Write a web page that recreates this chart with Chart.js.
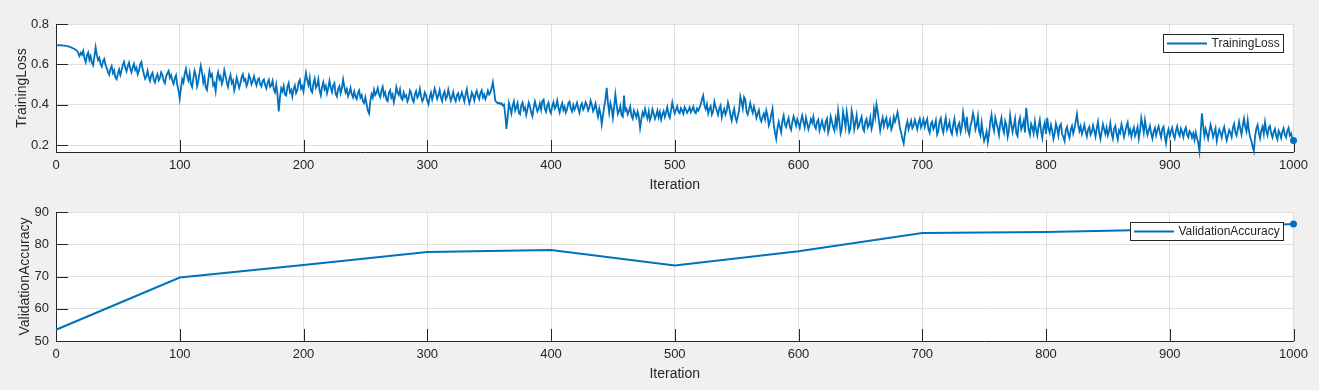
<!DOCTYPE html>
<html><head><meta charset="utf-8">
<script src="https://cdn.jsdelivr.net/npm/chart.js@4"></script>
<style>
html,body{margin:0;padding:0;background:#f0f0f0;width:1319px;height:390px;overflow:hidden}
canvas{position:absolute;left:0}
#c1{top:0}
#c2{top:195px}
</style></head><body>
<canvas id="c1" width="1319" height="195"></canvas>
<canvas id="c2" width="1319" height="195"></canvas>
<script>
// Training loss, one value per iteration (1..1000)
const trainingLoss = [
0.695,0.695,0.695,0.694,0.694,0.693,0.693,0.692,0.691,0.689,
0.687,0.685,0.682,0.679,0.676,0.672,0.667,0.655,0.641,0.658,
0.648,0.667,0.631,0.612,0.644,0.659,0.622,0.641,0.608,0.596,
0.639,0.685,0.646,0.621,0.633,0.602,0.589,0.615,0.627,0.598,
0.583,0.561,0.549,0.578,0.592,0.557,0.571,0.536,0.527,0.554,
0.575,0.548,0.571,0.598,0.613,0.583,0.566,0.592,0.609,0.579,
0.561,0.587,0.603,0.572,0.584,0.551,0.568,0.601,0.612,0.577,
0.553,0.529,0.541,0.568,0.536,0.518,0.547,0.559,0.524,0.511,
0.537,0.552,0.521,0.533,0.561,0.548,0.519,0.507,0.541,0.556,
0.568,0.534,0.547,0.519,0.503,0.531,0.546,0.498,0.472,0.431,
0.484,0.527,0.511,0.553,0.578,0.542,0.521,0.556,0.503,0.488,
0.531,0.569,0.546,0.492,0.518,0.559,0.594,0.562,0.511,0.537,
0.486,0.473,0.523,0.568,0.541,0.552,0.496,0.507,0.468,0.532,
0.561,0.527,0.541,0.503,0.524,0.572,0.546,0.511,0.489,0.527,
0.548,0.508,0.521,0.471,0.497,0.535,0.512,0.484,0.506,0.536,
0.551,0.519,0.527,0.494,0.512,0.548,0.531,0.502,0.518,0.541,
0.514,0.496,0.523,0.531,0.502,0.491,0.518,0.526,0.497,0.481,
0.509,0.524,0.489,0.497,0.519,0.476,0.461,0.499,0.452,0.368,
0.438,0.482,0.467,0.494,0.451,0.446,0.489,0.508,0.462,0.474,
0.441,0.479,0.496,0.458,0.472,0.511,0.524,0.481,0.493,0.466,
0.517,0.558,0.521,0.498,0.534,0.473,0.462,0.506,0.529,0.484,
0.496,0.526,0.471,0.447,0.489,0.512,0.478,0.494,0.457,0.483,
0.519,0.487,0.463,0.496,0.508,0.454,0.441,0.479,0.492,0.457,
0.482,0.526,0.489,0.461,0.478,0.443,0.459,0.484,0.452,0.437,
0.466,0.441,0.429,0.458,0.471,0.436,0.448,0.418,0.409,0.437,
0.404,0.372,0.357,0.418,0.453,0.436,0.474,0.449,0.461,0.483,
0.452,0.438,0.471,0.489,0.447,0.462,0.426,0.418,0.459,0.472,
0.436,0.451,0.413,0.442,0.487,0.461,0.449,0.476,0.433,0.425,
0.461,0.439,0.447,0.416,0.432,0.471,0.458,0.427,0.414,0.451,
0.468,0.436,0.447,0.479,0.443,0.418,0.431,0.462,0.449,0.421,
0.403,0.438,0.461,0.427,0.452,0.481,0.456,0.429,0.447,0.473,
0.438,0.419,0.452,0.466,0.428,0.441,0.476,0.449,0.421,0.439,
0.463,0.432,0.418,0.448,0.457,0.426,0.441,0.462,0.438,0.417,
0.452,0.478,0.436,0.408,0.429,0.461,0.447,0.421,0.452,0.469,
0.443,0.428,0.459,0.472,0.437,0.451,0.429,0.446,0.471,0.452,
0.461,0.483,0.512,0.469,0.421,0.413,0.407,0.411,0.404,0.408,
0.397,0.402,0.351,0.281,0.343,0.409,0.384,0.358,0.396,0.417,
0.372,0.388,0.409,0.361,0.354,0.397,0.412,0.376,0.387,0.351,
0.379,0.411,0.393,0.362,0.343,0.386,0.417,0.392,0.368,0.381,
0.407,0.376,0.419,0.426,0.381,0.366,0.398,0.411,0.372,0.359,
0.396,0.413,0.381,0.392,0.421,0.386,0.362,0.389,0.408,0.374,
0.391,0.362,0.378,0.409,0.416,0.381,0.367,0.398,0.376,0.392,
0.411,0.382,0.361,0.394,0.407,0.376,0.389,0.413,0.398,0.372,
0.386,0.421,0.401,0.369,0.384,0.407,0.371,0.341,0.382,0.357,
0.303,0.348,0.391,0.426,0.484,0.411,0.362,0.409,0.384,0.336,
0.388,0.452,0.402,0.356,0.371,0.394,0.349,0.341,0.446,0.372,
0.381,0.353,0.368,0.391,0.347,0.332,0.372,0.356,0.338,0.367,
0.341,0.286,0.328,0.362,0.346,0.379,0.351,0.332,0.368,0.325,
0.344,0.378,0.356,0.331,0.349,0.372,0.338,0.364,0.327,0.352,
0.369,0.341,0.363,0.388,0.351,0.336,0.374,0.412,0.381,0.358,
0.376,0.393,0.367,0.359,0.384,0.371,0.356,0.389,0.377,0.361,
0.373,0.388,0.364,0.376,0.391,0.366,0.359,0.382,0.371,0.386,
0.402,0.428,0.446,0.397,0.379,0.404,0.358,0.381,0.394,0.352,
0.367,0.416,0.389,0.371,0.351,0.382,0.397,0.338,0.364,0.381,
0.352,0.371,0.412,0.386,0.348,0.322,0.356,0.381,0.339,0.319,
0.346,0.372,0.441,0.416,0.382,0.438,0.426,0.367,0.352,0.379,
0.409,0.381,0.361,0.392,0.368,0.336,0.357,0.374,0.332,0.318,
0.341,0.357,0.329,0.372,0.346,0.298,0.317,0.352,0.381,0.301,
0.262,0.232,0.284,0.316,0.289,0.264,0.322,0.347,0.304,0.291,
0.318,0.336,0.292,0.276,0.314,0.343,0.322,0.297,0.328,0.309,
0.286,0.321,0.348,0.316,0.289,0.337,0.308,0.279,0.301,0.329,
0.312,0.341,0.296,0.283,0.316,0.327,0.274,0.298,0.321,0.292,
0.276,0.318,0.332,0.264,0.289,0.343,0.317,0.289,0.272,0.331,
0.296,0.371,0.321,0.259,0.283,0.366,0.332,0.291,0.365,0.318,
0.266,0.284,0.371,0.341,0.279,0.312,0.348,0.286,0.297,0.324,
0.342,0.286,0.271,0.318,0.331,0.289,0.302,0.336,0.281,0.306,
0.379,0.341,0.402,0.366,0.319,0.273,0.312,0.337,0.294,0.321,
0.336,0.289,0.302,0.327,0.278,0.296,0.341,0.317,0.338,0.364,
0.326,0.284,0.262,0.231,0.209,0.258,0.294,0.318,0.279,0.301,
0.322,0.284,0.297,0.326,0.304,0.279,0.312,0.331,0.289,0.306,
0.328,0.291,0.314,0.331,0.279,0.262,0.306,0.317,0.281,0.296,
0.323,0.254,0.271,0.318,0.334,0.286,0.263,0.306,0.337,0.277,
0.293,0.316,0.271,0.256,0.302,0.331,0.284,0.259,0.298,0.311,
0.266,0.291,0.361,0.318,0.283,0.341,0.271,0.252,0.297,0.321,
0.359,0.331,0.278,0.301,0.343,0.268,0.249,0.311,0.262,0.221,
0.241,0.268,0.215,0.256,0.318,0.352,0.296,0.271,0.337,0.309,
0.286,0.251,0.307,0.336,0.284,0.262,0.319,0.298,0.241,0.271,
0.348,0.303,0.266,0.297,0.331,0.258,0.245,0.313,0.336,0.279,
0.297,0.321,0.264,0.385,0.331,0.276,0.253,0.306,0.288,0.259,
0.318,0.276,0.248,0.293,0.325,0.271,0.236,0.289,0.312,0.256,
0.336,0.284,0.263,0.301,0.274,0.232,0.258,0.307,0.283,0.249,
0.294,0.305,0.256,0.241,0.221,0.276,0.291,0.254,0.237,0.278,
0.296,0.258,0.283,0.318,0.355,0.302,0.271,0.294,0.256,0.276,
0.301,0.268,0.244,0.279,0.291,0.252,0.266,0.298,0.271,0.243,
0.284,0.316,0.262,0.231,0.268,0.304,0.279,0.256,0.287,0.249,
0.271,0.309,0.258,0.233,0.282,0.296,0.256,0.229,0.274,0.261,
0.304,0.279,0.241,0.266,0.294,0.313,0.259,0.278,0.243,0.271,
0.289,0.247,0.266,0.291,0.234,0.272,0.335,0.301,0.262,0.324,
0.283,0.251,0.274,0.296,0.258,0.233,0.268,0.286,0.249,0.276,
0.294,0.263,0.238,0.281,0.292,0.246,0.211,0.257,0.279,0.245,
0.268,0.287,0.251,0.234,0.272,0.294,0.261,0.247,0.283,0.266,
0.241,0.273,0.288,0.252,0.239,0.271,0.262,0.238,0.259,0.227,
0.264,0.236,0.213,0.171,0.262,0.358,0.297,0.246,0.281,0.257,
0.231,0.268,0.302,0.276,0.241,0.261,0.284,0.222,0.253,0.279,
0.262,0.238,0.271,0.291,0.257,0.224,0.248,0.276,0.263,0.241,
0.286,0.306,0.264,0.248,0.279,0.316,0.282,0.253,0.297,0.332,
0.291,0.268,0.324,0.272,0.238,0.221,0.193,0.171,0.246,0.283,
0.301,0.262,0.234,0.274,0.293,0.256,0.314,0.271,0.249,0.288,
0.296,0.257,0.238,0.266,0.281,0.247,0.229,0.272,0.258,0.236,
0.268,0.284,0.252,0.239,0.271,0.286,0.248,0.259,0.236,0.224
];
const validationIterations = [0,100,200,300,400,500,600,700,800,900,1000];
const validationAccuracy = [53.5,69.7,73.6,77.6,78.2,73.4,77.8,83.5,83.8,84.6,86.3];
const iterationTicks = [0,100,200,300,400,500,600,700,800,900,1000];
const lossTicks = [0.2,0.4,0.6,0.8];
const accuracyTicks = [50,60,70,80,90];

const FONT = '"Liberation Sans", Arial, Helvetica, sans-serif';
const AX = '#262626';
const GRID = '#dfdfdf';
const BLUE = '#0072bd';

const areaBg = {id:'areaBg', beforeDraw(c){const a=c.chartArea,x=c.ctx;x.save();x.fillStyle='#fff';x.fillRect(a.left,a.top,a.right-a.left,a.bottom-a.top);x.restore();}};
const inTicks = {id:'inTicks', beforeDatasetsDraw(c){
  const a=c.chartArea,ctx=c.ctx,xs=c.scales.x,ys=c.scales.y;
  ctx.save();ctx.strokeStyle=AX;ctx.lineWidth=1;ctx.beginPath();
  xs.ticks.forEach(t=>{const p=Math.round(xs.getPixelForValue(t.value))+0.5;ctx.moveTo(p,a.bottom);ctx.lineTo(p,a.bottom-12);});
  ys.ticks.forEach(t=>{const p=Math.round(ys.getPixelForValue(t.value))+0.5;ctx.moveTo(a.left,p);ctx.lineTo(a.left+12,p);});
  ctx.stroke();ctx.restore();}};
const boxLegend = {id:'boxLegend', afterDraw(c){
  const a=c.chartArea,ctx=c.ctx,ds=c.data.datasets[0];
  ctx.save();ctx.font='12px '+FONT;
  const tw=ctx.measureText(ds.label).width;
  const h=19,w=4+40+4.5+tw+4.5;
  const r=Math.round(a.right-10),l=Math.round(r-w),t=Math.round(a.top+10);
  ctx.fillStyle='#fff';ctx.fillRect(l,t,r-l,h);
  ctx.strokeStyle=AX;ctx.lineWidth=1;ctx.strokeRect(l+0.5,t+0.5,r-l-1,h-1);
  const cy=t+h/2;
  ctx.strokeStyle=BLUE;ctx.lineWidth=2;ctx.beginPath();ctx.moveTo(l+4,cy);ctx.lineTo(l+44,cy);ctx.stroke();
  ctx.fillStyle=AX;ctx.textBaseline='middle';ctx.textAlign='left';ctx.fillText(ds.label,l+48.5,cy+0.5);
  ctx.restore();}};

function makeOptions(cfg){
  return {
    responsive:false, animation:false,
    layout:{padding:{top:cfg.top,right:25.5,left:0,bottom:0}},
    plugins:{legend:{display:false},tooltip:{enabled:false}},
    scales:{
      x:{type:'linear',min:0,max:1000,
        afterBuildTicks(s){s.ticks=iterationTicks.map(v=>({value:v}));},
        afterFit(s){s.height=cfg.xh;},
        grid:{color:GRID,drawTicks:false},
        border:{color:AX,width:1},
        ticks:{color:AX,font:{family:FONT,size:13},padding:6,maxRotation:0,autoSkip:false,callback:v=>String(v)},
        title:{display:true,text:'Iteration',color:AX,font:{family:FONT,size:14},padding:{top:0,bottom:cfg.xtpb}}},
      y:{type:'linear',min:cfg.ymin,max:cfg.ymax,
        afterBuildTicks(s){s.ticks=cfg.yticks.map(v=>({value:v}));},
        afterFit(s){s.width=56;},
        grid:{color:GRID,drawTicks:false},
        border:{color:AX,width:1},
        ticks:{color:AX,font:{family:FONT,size:13},padding:7,callback:v=>String(v)},
        title:{display:true,text:cfg.ylabel,color:AX,font:{family:FONT,size:14},padding:{top:cfg.ytpt,bottom:0}}}
    }
  };
}

const n1=trainingLoss.length;
new Chart(document.getElementById('c1'),{
  type:'line',
  data:{datasets:[{label:'TrainingLoss',
    data:trainingLoss.map((v,i)=>({x:i+1,y:v})),
    borderColor:BLUE,backgroundColor:BLUE,borderWidth:1.8,tension:0,clip:false,
    pointRadius:ctx=>ctx.dataIndex===n1-1?3.5:0,pointBorderWidth:0,pointBackgroundColor:BLUE}]},
  options:makeOptions({top:24,xh:43,xtpb:1,ymin:0.1668,ymax:0.8,yticks:lossTicks,ylabel:'TrainingLoss',ytpt:14}),
  plugins:[areaBg,inTicks,boxLegend]
});
const n2=validationAccuracy.length;
new Chart(document.getElementById('c2'),{
  type:'line',
  data:{datasets:[{label:'ValidationAccuracy',
    data:validationAccuracy.map((v,i)=>({x:validationIterations[i],y:v})),
    borderColor:BLUE,backgroundColor:BLUE,borderWidth:2,tension:0,clip:false,
    pointRadius:ctx=>ctx.dataIndex===n2-1?3.5:0,pointBorderWidth:0,pointBackgroundColor:BLUE}]},
  options:makeOptions({top:17,xh:49,xtpb:7.6,ymin:50,ymax:90,yticks:accuracyTicks,ylabel:'ValidationAccuracy',ytpt:17}),
  plugins:[areaBg,inTicks,boxLegend]
});
</script>
</body></html>
